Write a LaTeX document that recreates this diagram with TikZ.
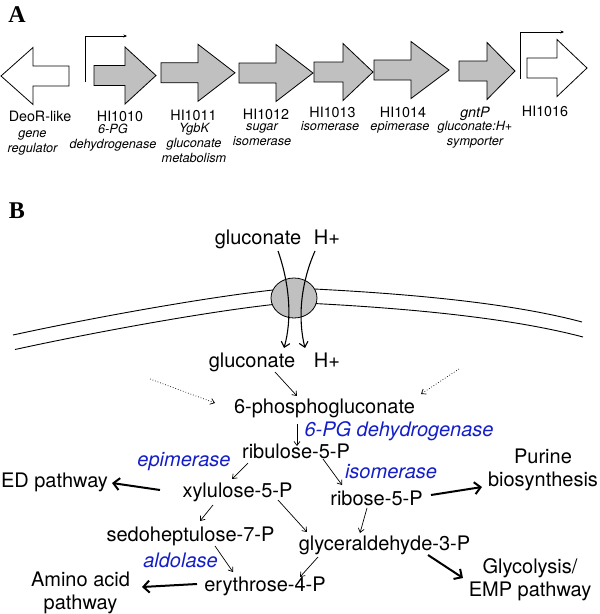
\documentclass[tikz,border=0pt]{standalone}
\usepackage{fontspec}
\setmainfont{TeX Gyre Heros}
\newfontfamily\panelfont{Liberation Serif}
\usepackage{tikz}
\usetikzlibrary{arrows.meta, shapes.geometric, positioning, calc}

\definecolor{enzblue}{RGB}{20,30,200}
\definecolor{genegray}{RGB}{192,192,192}

% shaft end, head base, tip, centre line, fill
\newcommand{\genearrow}[5]{%
  \draw[gene, fill=#5] (#1,#4-10) -- (#2,#4-10) -- (#2,#4-28.5) -- (#3,#4)
    -- (#2,#4+28.5) -- (#2,#4+10) -- (#1,#4+10) -- cycle;}

\begin{document}
\begin{tikzpicture}[x=1pt, y=-1pt, >={Straight Barb[length=4pt,width=6pt]},
  panel/.style={anchor=base, inner sep=0pt, font=\panelfont\bfseries\fontsize{24}{24}\selectfont},
  gene/.style={draw, line width=0.8pt},
  promoter/.style={-{Stealth[length=3.5pt,width=3pt]}, line width=0.7pt},
  gname/.style={anchor=base, inner sep=0pt, font=\fontsize{14.3}{16}\selectfont},
  gdesc/.style={anchor=base, inner sep=0pt, align=center, font=\itshape\fontsize{12.7}{15}\selectfont},
  met/.style={anchor=base, inner sep=0pt, align=center, font=\fontsize{20}{23}\selectfont},
  enz/.style={met, text=enzblue, font=\itshape\fontsize{20}{23}\selectfont},
  membrane/.style={line width=0.9pt},
  carrier/.style={->, >={Straight Barb[length=5pt,width=9pt]}, line width=1.1pt},
  flow/.style={->, line width=0.7pt},
  bigflow/.style={-{Straight Barb[length=6pt,width=12pt]}, line width=2pt},
  feed/.style={->, dotted, line width=0.7pt}]
  \useasboundingbox (0,0) rectangle (600,614);

  % A: the gene cluster
  \node[panel] (pa) at (17,22) {A};
  \foreach \xs/\xb/\xt/\yc in {94/125/156/75.5, 161/198/235/72.8, 239/276/313/73,
      314/343/373/72, 374/411/449/70, 459/487/515/71}
    \genearrow{\xs}{\xb}{\xt}{\yc}{genegray};
  \genearrow{69}{33}{1}{76}{white}
  \genearrow{527}{557}{587}{68}{white}
  \draw[promoter] (85,82) |- (127,36);
  \draw[promoter] (520,79) |- (564,32);

  % names; the descriptions sit on the base of their last line
  \node[gname] (deor) at (40,121) {DeoR-like};
  \node[gname] (g1010) at (120,121) {HI1010};
  \node[gname] (g1011) at (193.5,120) {HI1011};
  \node[gname] (g1012) at (266,119) {HI1012};
  \node[gname] (g1013) at (332.5,117) {HI1013};
  \node[gname] (g1014) at (403,117) {HI1014};
  \node[gname, font=\itshape\fontsize{14.3}{16}\selectfont] (gntp) at (475,117) {gntP};
  \node[gname] (g1016) at (545,116) {HI1016};
  \node[gdesc] (d0) at (32.5,152) {gene\\regulator};
  \node[gdesc] (d1010) at (113,148) {6-PG\\dehydrogenase};
  \node[gdesc] (d1011) at (194,162) {YgbK\\gluconate\\metabolism};
  \node[gdesc] (d1012) at (262,145) {sugar\\isomerase};
  \node[gdesc] (d1013) at (330,130) {isomerase};
  \node[gdesc] (d1014) at (400,130) {epimerase};
  \node[gdesc] (dgntp) at (475,145) {gluconate:H+\\symporter};

  % B: the pathway
  \node[panel] (pb) at (17,218) {B};
  \draw[membrane] (13,335) .. controls (100,316) and (230,293) .. (294,288)
    .. controls (380,292) and (500,300) .. (582,322);
  \draw[membrane] (15,349.5) .. controls (102,330.5) and (230,307.5) .. (294,302.5)
    .. controls (380,306.5) and (500,315) .. (583,337);
  \node[draw, line width=0.8pt, fill=genegray, ellipse, minimum width=46pt,
    minimum height=40pt, inner sep=0pt] (porter) at (294,298) {};

  \node[met] (gl1) at (258,244) {gluconate};
  \node[met] (h1) at (327,244) {H+};
  \node[met] (gl2) at (252,367) {gluconate};
  \node[met] (h2) at (327,367) {H+};
  \node[met] (pg) at (324.5,413) {6-phosphogluconate};
  \node[enz] (pgd) at (399,436) {6-PG dehydrogenase};
  \node[met] (ru) at (296,458) {ribulose-5-P};
  \node[enz] (epi) at (184,466) {epimerase};
  \node[enz] (iso) at (391,478) {isomerase};
  \node[met] (ed) at (54.5,487) {ED pathway};
  \node[met] (xy) at (237.5,497) {xylulose-5-P};
  \node[met] (ri) at (376.5,505) {ribose-5-P};
  \node[met] (pur) at (543,486) {Purine\\biosynthesis};
  \node[met] (sed) at (190.5,541) {sedoheptulose-7-P};
  \node[met] (gly) at (384.5,550) {glyceraldehyde-3-P};
  \node[enz] (ald) at (180.5,567) {aldolase};
  \node[met] (ery) at (265,591) {erythrose-4-P};
  \node[met] (ami) at (80.5,609) {Amino acid\\pathway};
  \node[met] (emp) at (530,596) {Glycolysis/\\EMP pathway};
  \coordinate (inleft) at (150,379);
  \coordinate (inright) at (459,369);

  \draw[carrier] ($(gl1.base)+(20,7)$) .. controls (290,285) and (292,320) .. ($(gl2.base)+(32,-19)$);
  \draw[carrier] ($(h1.base)+(-12,7)$) .. controls (300,285) and (298,320) .. ($(h2.base)+(-22,-19)$);
  \draw[feed] (inleft) -- ($(pg.base)+(-109.5,-10)$);
  \draw[feed] (inright) -- ($(pg.base)+(96.5,-19)$);
  \draw[flow] ($(gl2.base)+(23,5)$) -- ($(pg.base)+(-27.5,-17)$);
  \draw[flow] ($(pg.base)+(-27.5,11)$) -- ($(ru.base)+(1,-12)$);
  \draw[flow] ($(ru.base)+(-48,5)$) -- ($(xy.base)+(-5.5,-18)$);
  \draw[flow] ($(ru.base)+(27,1)$) -- ($(ri.base)+(-34.5,-20)$);
  \draw[flow] ($(xy.base)+(-24.5,8)$) -- ($(sed.base)+(9.5,-20)$);
  \draw[flow] ($(xy.base)+(40.5,3)$) -- ($(gly.base)+(-77.5,-18)$);
  \draw[flow] ($(ri.base)+(-9.5,3)$) -- ($(gly.base)+(-24.5,-17)$);
  \draw[flow] ($(sed.base)+(24.5,5)$) -- ($(ery.base)+(-32,-19)$);
  \draw[flow] ($(gly.base)+(-66.5,7)$) -- ($(ery.base)+(35,-14)$);
  \draw[bigflow] ($(xy.base)+(-77.5,-7)$) -- ($(ed.base)+(57.5,-4)$);
  \draw[bigflow] ($(ri.base)+(54.5,-10)$) -- ($(pur.base)+(-61,1)$);
  \draw[bigflow] ($(ery.base)+(-68,-7)$) -- ($(ami.base)+(61.5,-22)$);
  \draw[bigflow] ($(gly.base)+(43.5,5)$) -- ($(emp.base)+(-67,-18)$);
\end{tikzpicture}
\end{document}
